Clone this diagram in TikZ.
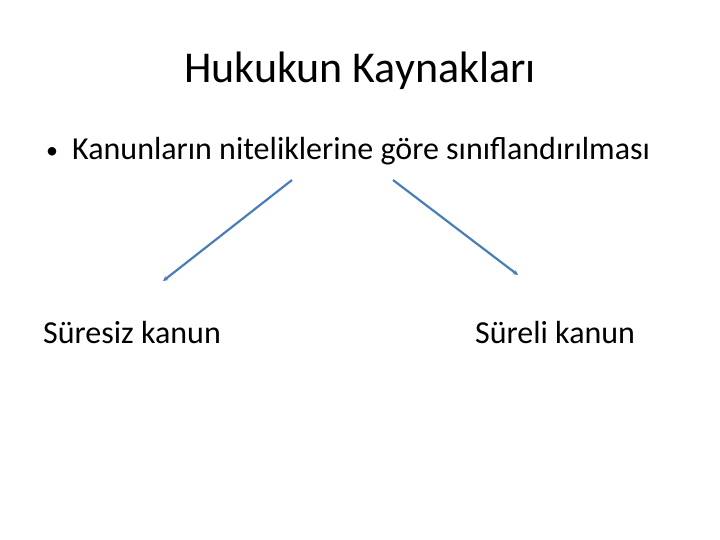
\documentclass[tikz,border=0pt]{standalone}
\usepackage{fontspec}
\setmainfont{Carlito}
\usetikzlibrary{arrows.meta}
\definecolor{accent}{HTML}{4A7EBB}
\tikzset{
  txt/.style={inner sep=0pt, anchor=base west, text=black},
  conn/.style={draw=accent, line width=2.2pt, -{Stealth[length=5pt,width=5pt]}}
}
\begin{document}
\begin{tikzpicture}[x=1pt,y=-1pt]
\useasboundingbox (0,0) rectangle (720,540);
\node[inner sep=0pt, anchor=base, font=\fontsize{44}{50}\selectfont] (title) at (360,83) {Hukukun Kaynakları};
\node[txt, font=\fontsize{24}{28}\selectfont] (bullet) at (46,159) {•};
\node[txt, font=\fontsize{32}{38}\selectfont] (main) at (72,160) {Kanunların niteliklerine göre sınıflandırılması};
\node[txt, font=\fontsize{32}{38}\selectfont] (left) at (43,343) {Süresiz kanun};
\node[txt, font=\fontsize{32}{38}\selectfont] (right) at (475,343) {Süreli kanun};
\coordinate (s1) at (292,180);
\coordinate (e1) at (163,281);
\coordinate (s2) at (393,180);
\coordinate (e2) at (518,275);
\draw[conn] (s1) -- (e1);
\draw[conn] (s2) -- (e2);
\end{tikzpicture}
\end{document}
